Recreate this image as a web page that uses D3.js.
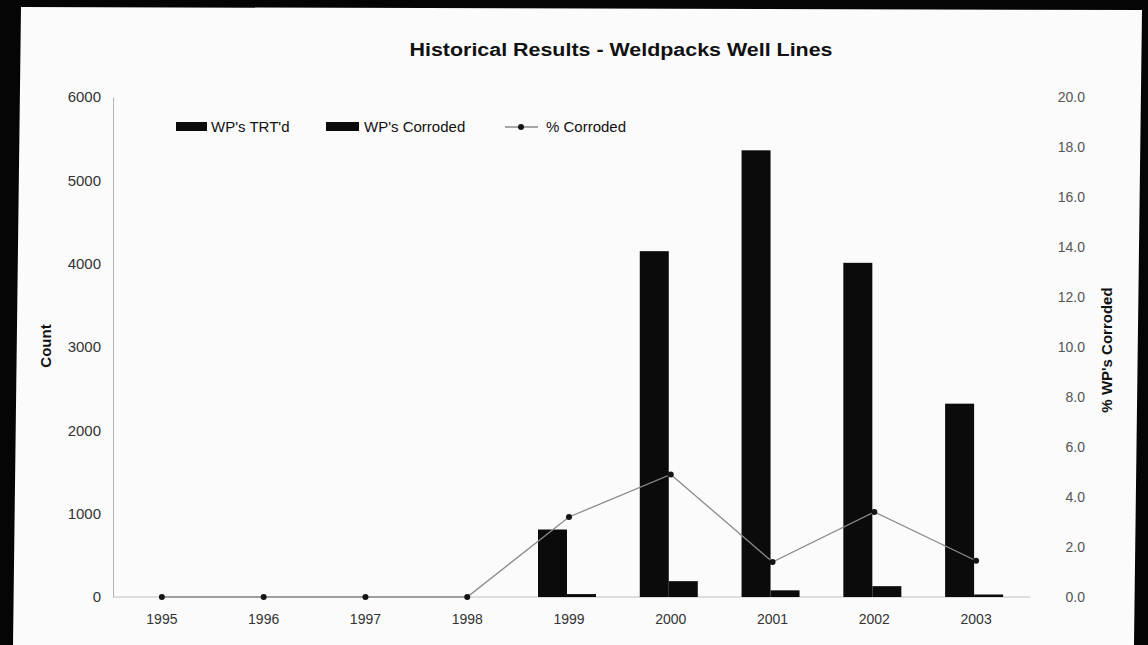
<!DOCTYPE html>
<html>
<head>
<meta charset="utf-8">
<script src="https://cdn.jsdelivr.net/npm/d3@7"></script>
<style>
  html, body { margin: 0; padding: 0; background: #000; }
  svg { display: block; }
</style>
</head>
<body>
<svg id="chart" width="1148" height="645"></svg>
<script>
// ---- Data ----
const years = ["1995", "1996", "1997", "1998", "1999", "2000", "2001", "2002", "2003"];
const wpTreated = [0, 0, 0, 0, 810, 4150, 5360, 4010, 2320];
const wpCorroded = [0, 0, 0, 0, 35, 190, 80, 130, 30];
const pctCorroded = [0, 0, 0, 0, 3.2, 4.9, 1.4, 3.4, 1.45];
const leftTicks = [0, 1000, 2000, 3000, 4000, 5000, 6000];
const rightTicks = [0, 2, 4, 6, 8, 10, 12, 14, 16, 18, 20];
const seriesNames = ["WP's TRT'd", "WP's Corroded", "% Corroded"];
const titleText = "Historical Results - Weldpacks Well Lines";

const svg = d3.select("#chart");
const W = 1148, H = 645;
const font = "'Liberation Sans', Arial, Helvetica, sans-serif";

// frame (photo of printout: black surround, white page)
svg.append("rect").attr("width", W).attr("height", H).attr("fill", "#050505");
svg.append("polygon")
  .attr("points", "21,7 1142,10 1134,645 13,645")
  .attr("fill", "#fbfbfb");

// scales
const x = d3.scaleBand().domain(years).range([111, 1027]).padding(0);
const sub = d3.scaleBand().domain(["trt", "cor"]).range([-31, 27]).padding(0);
const yL = d3.scaleLinear().domain([0, 6000]).range([597, 97]);
const yR = d3.scaleLinear().domain([0, 20]).range([597, 97]);
const cx = d => x(d) + x.bandwidth() / 2;

// title
svg.append("text")
  .attr("x", 621).attr("y", 56)
  .attr("text-anchor", "middle")
  .attr("font-family", font).attr("font-weight", "bold")
  .attr("font-size", 18).attr("fill", "#111")
  .attr("textLength", 423).attr("lengthAdjust", "spacingAndGlyphs")
  .text(titleText);

// left axis
const gL = svg.append("g").attr("transform", "translate(113,0)")
  .call(d3.axisLeft(yL).tickValues(leftTicks).tickSize(0).tickPadding(12).tickFormat(d3.format("d")));
gL.select(".domain").attr("stroke", "#b5b5b5").attr("stroke-width", 1);
gL.selectAll("text").attr("font-family", font).attr("font-size", 15).attr("fill", "#333");

// right axis (labels only)
const gR = svg.append("g").attr("transform", "translate(1085,0)")
  .call(d3.axisRight(yR).tickValues(rightTicks).tickSize(0).tickPadding(0).tickFormat(d3.format(".1f")));
gR.select(".domain").remove();
gR.selectAll("text").attr("font-family", font).attr("font-size", 14).attr("fill", "#555")
  .attr("text-anchor", "end");

// bottom axis
const gB = svg.append("g").attr("transform", "translate(0,597)")
  .call(d3.axisBottom(x).tickSize(0).tickPadding(17));
gB.select(".domain").attr("stroke", "#c0c0c0").attr("stroke-width", 1).attr("d", "M113,0H1030");
gB.selectAll("text").attr("font-family", font).attr("font-size", 14).attr("fill", "#333");

// axis titles
svg.append("text")
  .attr("transform", "translate(51,346) rotate(-90)")
  .attr("text-anchor", "middle")
  .attr("font-family", font).attr("font-weight", "bold").attr("font-size", 15).attr("fill", "#111")
  .text("Count");
svg.append("text")
  .attr("transform", "translate(1112,350) rotate(-90)")
  .attr("text-anchor", "middle")
  .attr("font-family", font).attr("font-weight", "bold").attr("font-size", 15).attr("fill", "#111")
  .text("% WP's Corroded");

// bars
const barData = years.map((y, i) => ({ year: y, trt: wpTreated[i], cor: wpCorroded[i] }));
const groups = svg.append("g").selectAll("g").data(barData).join("g")
  .attr("transform", d => `translate(${cx(d.year)},0)`);
groups.append("rect")
  .attr("x", sub("trt")).attr("width", sub.bandwidth())
  .attr("y", d => yL(d.trt)).attr("height", d => yL(0) - yL(d.trt))
  .attr("fill", "#0b0b0b");
groups.append("rect")
  .attr("x", sub("cor")).attr("width", sub.bandwidth())
  .attr("y", d => yL(d.cor)).attr("height", d => yL(0) - yL(d.cor))
  .attr("fill", "#0b0b0b");

// percent line
const lineData = years.map((y, i) => ({ year: y, v: pctCorroded[i] }));
svg.append("path").datum(lineData)
  .attr("fill", "none").attr("stroke", "#8a8a8a").attr("stroke-width", 1.3)
  .attr("d", d3.line().x(d => cx(d.year)).y(d => yR(d.v)));
svg.append("g").selectAll("circle").data(lineData).join("circle")
  .attr("cx", d => cx(d.year)).attr("cy", d => yR(d.v)).attr("r", 3)
  .attr("fill", "#151515");

// legend
const lg = svg.append("g").attr("font-family", font).attr("font-size", 15).attr("fill", "#111");
lg.append("rect").attr("x", 176).attr("y", 122).attr("width", 31).attr("height", 9).attr("fill", "#0b0b0b");
lg.append("text").attr("x", 211).attr("y", 132).text(seriesNames[0]);
lg.append("rect").attr("x", 326).attr("y", 122).attr("width", 33).attr("height", 9).attr("fill", "#0b0b0b");
lg.append("text").attr("x", 364).attr("y", 132).text(seriesNames[1]);
lg.append("line").attr("x1", 505).attr("x2", 538).attr("y1", 127).attr("y2", 127)
  .attr("stroke", "#8a8a8a").attr("stroke-width", 1.3);
lg.append("circle").attr("cx", 521).attr("cy", 127).attr("r", 3).attr("fill", "#151515");
lg.append("text").attr("x", 546).attr("y", 132).text(seriesNames[2]);
</script>
</body>
</html>
